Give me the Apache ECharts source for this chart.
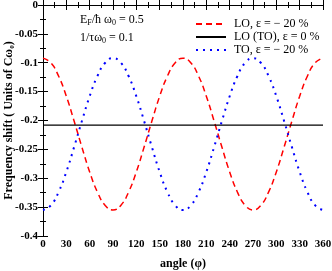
<!DOCTYPE html>
<html><head><meta charset="utf-8">
<script src="https://cdn.jsdelivr.net/npm/echarts@6/dist/echarts.min.js"></script>
<style>html,body{margin:0;padding:0;background:#fff}#c{width:332px;height:271px}</style>
</head><body><div id="c"></div>
<script>
const angles = [0,10,20,30,40,50,60,70,80,90,100,110,120,130,140,150,160,170,180,190,200,210,220,230,240,250,260,270,280,290,300,310,320,330,340,350,360];
const loEps20 = [-0.092,-0.100,-0.123,-0.158,-0.201,-0.246,-0.289,-0.324,-0.347,-0.355,-0.347,-0.324,-0.289,-0.246,-0.201,-0.158,-0.123,-0.100,-0.092,-0.100,-0.123,-0.158,-0.201,-0.246,-0.289,-0.324,-0.347,-0.355,-0.347,-0.324,-0.289,-0.246,-0.201,-0.158,-0.123,-0.100,-0.092];
const toEps20 = [-0.355,-0.347,-0.324,-0.289,-0.246,-0.201,-0.158,-0.123,-0.100,-0.092,-0.100,-0.123,-0.158,-0.201,-0.246,-0.289,-0.324,-0.347,-0.355,-0.347,-0.324,-0.289,-0.246,-0.201,-0.158,-0.123,-0.100,-0.092,-0.100,-0.123,-0.158,-0.201,-0.246,-0.289,-0.324,-0.347,-0.355];
const eps0Angles = [0,360];
const eps0Values = [-0.208,-0.208];
const seriesNames = ['LO, ε = − 20 %','LO (TO), ε = 0 %','TO, ε = − 20 %'];

const pairs = (xs, ys) => xs.map((x,i)=>[x,ys[i]]);
const font = 'Liberation Serif';
const chart = echarts.init(document.getElementById('c'));
const axisLine = {show:true,lineStyle:{color:'#000',width:1}};
chart.setOption({
  animation:false,
  grid:{left:43,right:9,top:5,bottom:35,show:false,outerBoundsMode:'none',containLabel:false},
  legend:{
    top:13,left:190,orient:'vertical',itemGap:1,itemWidth:30,itemHeight:10,
    itemStyle:{opacity:0},
    textStyle:{fontFamily:font,fontSize:12,lineHeight:12,color:'#000',padding:[0,0,0,3]},
    data:seriesNames
  },
  graphic:[
    {type:'text',left:80,top:14,style:{rich:{n:{fontFamily:font,fontSize:12,fill:'#000'},s:{fontFamily:font,fontSize:8,fill:'#000',padding:[6,0,0,0]}},text:'{n|E}{s|F}{n|/ħ ω}{s|0}{n| = 0.5}'}},
    {type:'text',left:80,top:32,style:{rich:{n:{fontFamily:font,fontSize:12,fill:'#000'},s:{fontFamily:font,fontSize:8,fill:'#000',padding:[6,0,0,0]}},text:'{n|1/τω}{s|0}{n| = 0.1}'}}
  ],
  xAxis:[
    {type:'value',min:0,max:360,interval:30,position:'bottom',
     name:'angle (φ)',nameLocation:'middle',nameGap:22,nameMoveOverlap:false,
     nameTextStyle:{fontFamily:font,fontSize:12,fontWeight:'bold',color:'#000'},
     axisLine:axisLine,axisTick:{inside:true,length:5,lineStyle:{color:'#000'}},
     minorTick:{show:true,splitNumber:2,length:3,lineStyle:{color:'#000'}},
     axisLabel:{fontFamily:font,fontSize:11,fontWeight:'bold',color:'#000',margin:3,showMinLabel:true,showMaxLabel:true},
     splitLine:{show:false}},
    {type:'value',min:0,max:360,interval:30,position:'top',
     axisLine:axisLine,axisTick:{inside:true,length:5,lineStyle:{color:'#000'}},
     minorTick:{show:true,splitNumber:2,length:3,lineStyle:{color:'#000'}},
     axisLabel:{show:false},splitLine:{show:false}}
  ],
  yAxis:[
    {type:'value',min:-0.4,max:0,interval:0.05,position:'left',
     name:'Frequency shift ( Units of Cω₀)',nameLocation:'middle',nameGap:28,nameRotate:90,nameMoveOverlap:false,
     nameTextStyle:{fontFamily:font,fontSize:12,fontWeight:'bold',color:'#000'},
     axisLine:axisLine,axisTick:{inside:true,length:5,lineStyle:{color:'#000'}},
     minorTick:{show:true,splitNumber:2,length:3,lineStyle:{color:'#000'}},
     axisLabel:{fontFamily:font,fontSize:11,fontWeight:'bold',color:'#000',margin:5,
       formatter:v=>String(+v.toFixed(2))},
     splitLine:{show:false}},
    {type:'value',min:-0.4,max:0,interval:0.05,position:'right',
     axisLine:axisLine,axisTick:{inside:true,length:5,lineStyle:{color:'#000'}},
     minorTick:{show:true,splitNumber:2,length:3,lineStyle:{color:'#000'}},
     axisLabel:{show:false},splitLine:{show:false}}
  ],
  series:[
    {name:seriesNames[0],type:'line',smooth:true,symbol:'none',data:pairs(angles,loEps20),
     itemStyle:{color:'#ff0000'},lineStyle:{color:'#ff0000',width:1.5,type:[6,4]}},
    {name:seriesNames[1],type:'line',symbol:'none',data:pairs(eps0Angles,eps0Values),
     itemStyle:{color:'#000'},lineStyle:{color:'#000',width:1.2}},
    {name:seriesNames[2],type:'line',smooth:true,symbol:'none',data:pairs(angles,toEps20),
     itemStyle:{color:'#0000ff'},lineStyle:{color:'#0000ff',width:2,type:[2,5]}}
  ]
});
</script></body></html>
